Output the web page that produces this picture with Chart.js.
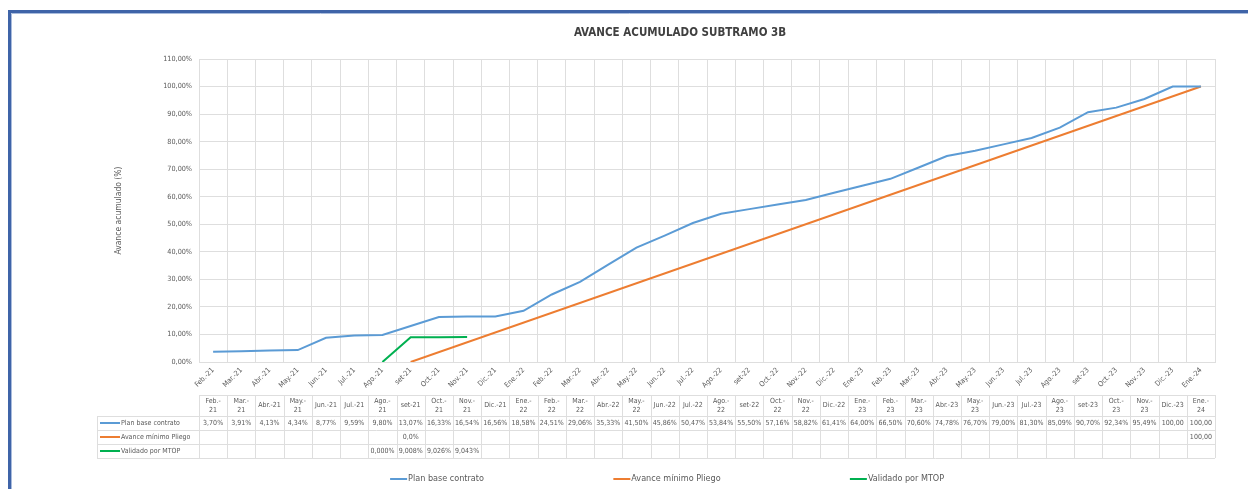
<!DOCTYPE html>
<html>
<head>
<meta charset="utf-8">
<script src="https://cdn.jsdelivr.net/npm/chart.js@4.4.1/dist/chart.umd.min.js"></script>
<style>
  html, body { margin: 0; padding: 0; background: #fff; overflow: hidden; }
  #wrap { width: 1248px; height: 489px; }
</style>
</head>
<body>
<div id="wrap"><canvas id="chart" width="1248" height="489"></canvas></div>
<script>
const categories = [
    'Feb.-21', 'Mar.-21', 'Abr.-21', 'May.-21', 'Jun.-21', 'Jul.-21', 'Ago.-21', 'set-21', 'Oct.-21', 'Nov.-21', 'Dic.-21', 'Ene.-22',
    'Feb.-22', 'Mar.-22', 'Abr.-22', 'May.-22', 'Jun.-22', 'Jul.-22', 'Ago.-22', 'set-22', 'Oct.-22', 'Nov.-22', 'Dic.-22', 'Ene.-23',
    'Feb.-23', 'Mar.-23', 'Abr.-23', 'May.-23', 'Jun.-23', 'Jul.-23', 'Ago.-23', 'set-23', 'Oct.-23', 'Nov.-23', 'Dic.-23', 'Ene.-24',
];

const planBase = [
    3.70, 3.91, 4.13, 4.34, 8.77, 9.59, 9.80, 13.07, 16.33, 16.54, 16.56, 18.58,
    24.51, 29.06, 35.33, 41.50, 45.86, 50.47, 53.84, 55.50, 57.16, 58.82, 61.41, 64.00,
    66.50, 70.60, 74.78, 76.70, 79.00, 81.30, 85.09, 90.70, 92.34, 95.49, 100.00, 100.00,
];

const avanceMinimo = [
    null, null, null, null, null, null, null, 0.0, null, null, null, null,
    null, null, null, null, null, null, null, null, null, null, null, null,
    null, null, null, null, null, null, null, null, null, null, null, 100.00,
];

const validadoMtop = [
    null, null, null, null, null, null, 0.000, 9.008, 9.026, 9.043, null, null,
    null, null, null, null, null, null, null, null, null, null, null, null,
    null, null, null, null, null, null, null, null, null, null, null, null,
];

const yMax = 110;
const yStep = 10;

const FONT = "'DejaVu Sans Condensed', 'Liberation Sans Narrow', 'Liberation Sans', sans-serif";
const TEXT = '#595959';
const GRID = '#dedede';

Chart.defaults.font.family = FONT;
Chart.defaults.color = TEXT;

const fmt = (v, dec) => {
    if (v >= 100) return v.toFixed(2).replace('.', ',');
    return v.toFixed(dec).replace('.', ',') + '%';
};

// frame, title, data table and legend
const decorPlugin = {
    id: 'decor',
    beforeDraw(chart) {
        const ctx = chart.ctx;
        ctx.save();
        ctx.fillStyle = '#fff';
        ctx.fillRect(0, 0, chart.width, chart.height);
        ctx.strokeStyle = '#3F64A8';
        ctx.lineWidth = 3;
        ctx.beginPath();
        ctx.moveTo(9.5, chart.height);
        ctx.lineTo(9.5, 11.5);
        ctx.lineTo(chart.width, 11.5);
        ctx.stroke();
        ctx.strokeStyle = '#A9BCDD';
        ctx.lineWidth = 1;
        ctx.beginPath();
        ctx.moveTo(11.5, chart.height);
        ctx.lineTo(11.5, 13.5);
        ctx.lineTo(chart.width, 13.5);
        ctx.stroke();
        ctx.restore();
    },
    afterDraw(chart) {
        const ctx = chart.ctx;
        const area = chart.chartArea;
        const xs = chart.scales.x;
        const n = chart.data.labels.length;
        const cw = (area.right - area.left) / n;
        const top = 395, headH = 21, rowH = 14, labelLeft = 97;
        const sets = chart.data.datasets;
        const bottom = top + headH + rowH * sets.length;
        const px = v => Math.round(v) + 0.5;

        ctx.save();

        // title
        ctx.fillStyle = '#404040';
        ctx.font = 'bold 11.5px ' + FONT;
        ctx.textAlign = 'center';
        ctx.textBaseline = 'middle';
        ctx.fillText('AVANCE ACUMULADO SUBTRAMO 3B', 680, 33);

        // table grid
        ctx.strokeStyle = GRID;
        ctx.lineWidth = 1;
        ctx.beginPath();
        ctx.moveTo(area.left, px(top));
        ctx.lineTo(area.right, px(top));
        for (let r = 0; r <= sets.length; r++) {
            const y = px(top + headH + r * rowH);
            ctx.moveTo(labelLeft, y);
            ctx.lineTo(area.right, y);
        }
        for (let i = 0; i <= n; i++) {
            const x = px(area.left + i * cw);
            ctx.moveTo(x, top);
            ctx.lineTo(x, bottom);
        }
        ctx.moveTo(px(labelLeft), top + headH);
        ctx.lineTo(px(labelLeft), bottom);
        ctx.stroke();

        // header: wrap at the hyphen when the label is too wide for its cell
        ctx.fillStyle = TEXT;
        ctx.textAlign = 'center';
        chart.data.labels.forEach((lab, i) => {
            ctx.font = "100px 'DejaVu Sans'";
            const w = ctx.measureText(lab).width * 0.07;
            ctx.font = '7px ' + FONT;
            const x = xs.getPixelForValue(i);
            if (w > cw - 2.9 && lab.includes('-')) {
                const k = lab.indexOf('-') + 1;
                ctx.fillText(lab.slice(0, k), x, top + 6);
                ctx.fillText(lab.slice(k), x, top + 15);
            } else {
                ctx.fillText(lab, x, top + 10.5);
            }
        });

        // rows
        ctx.font = '7px ' + FONT;
        sets.forEach((ds, r) => {
            const yc = top + headH + r * rowH + rowH / 2;
            ctx.strokeStyle = ds.borderColor;
            ctx.lineWidth = 2;
            ctx.beginPath();
            ctx.moveTo(100, yc);
            ctx.lineTo(120, yc);
            ctx.stroke();
            ctx.textAlign = 'left';
            ctx.fillStyle = TEXT;
            ctx.fillText(ds.label, 121, yc);
            ctx.textAlign = 'center';
            ds.data.forEach((v, i) => {
                if (v === null) return;
                ctx.fillText(fmt(v, ds.decimals), xs.getPixelForValue(i), yc);
            });
        });

        // legend
        const centers = [437, 667, 897];
        ctx.font = '9px ' + FONT;
        sets.forEach((ds, r) => {
            const tw = ctx.measureText(ds.label).width;
            const w = 18 + tw;
            const x0 = centers[r] - w / 2;
            const y = 479;
            ctx.strokeStyle = ds.borderColor;
            ctx.lineWidth = 2;
            ctx.beginPath();
            ctx.moveTo(x0, y);
            ctx.lineTo(x0 + 17, y);
            ctx.stroke();
            ctx.textAlign = 'left';
            ctx.fillStyle = TEXT;
            ctx.fillText(ds.label, x0 + 18, y);
        });

        ctx.restore();
    },
};

new Chart(document.getElementById('chart'), {
    type: 'line',
    data: {
        labels: categories,
        datasets: [
            { label: 'Plan base contrato', data: planBase, borderColor: '#5B9BD5', decimals: 2 },
            { label: 'Avance mínimo Pliego', data: avanceMinimo, borderColor: '#ED7D31', decimals: 1, spanGaps: true },
            { label: 'Validado por MTOP', data: validadoMtop, borderColor: '#00B050', decimals: 3 },
        ].map(d => ({ ...d, borderWidth: 2, pointRadius: 0, pointHoverRadius: 0, fill: false, tension: 0 })),
    },
    options: {
        responsive: false,
        animation: false,
        devicePixelRatio: 1,
        layout: { padding: { left: 110, top: 59, right: 33, bottom: 0 } },
        plugins: {
            legend: { display: false },
            tooltip: { enabled: false },
        },
        scales: {
            x: {
                offset: true,
                grid: { offset: true, color: GRID, drawTicks: false },
                border: { color: GRID },
                ticks: { autoSkip: false, minRotation: 45, maxRotation: 45, padding: 4, font: { size: 7.2 }, color: TEXT },
                afterFit: s => { s.height = 127; },
            },
            y: {
                min: 0,
                max: yMax,
                grid: { color: GRID, drawTicks: false },
                border: { color: GRID },
                ticks: {
                    stepSize: yStep,
                    padding: 7,
                    font: { size: 7.2 },
                    color: TEXT,
                    callback: v => v.toFixed(2).replace('.', ',') + '%',
                },
                title: { display: true, text: 'Avance acumulado (%)', font: { size: 8.5 }, color: TEXT, padding: { top: 4, bottom: 0 } },
                afterFit: s => { s.width = 89; },
            },
        },
    },
    plugins: [decorPlugin],
});
</script>
</body>
</html>
